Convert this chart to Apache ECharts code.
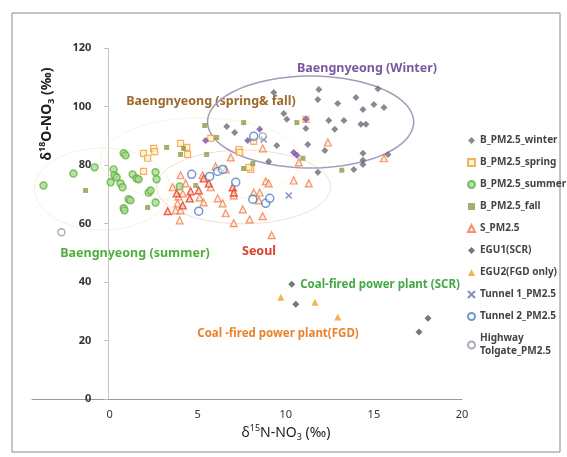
<!DOCTYPE html>
<html><head><meta charset="utf-8">
<script src="https://cdn.jsdelivr.net/npm/echarts@6/dist/echarts.min.js"></script>
<style>html,body{margin:0;padding:0;background:#fff}#c{width:567px;height:457px}</style>
</head><body><div id="c"></div>
<script>
// ---- data (x = δ15N-NO3, y = δ18O-NO3) ----
const xTickValues = [0, 5, 10, 15, 20];
const yTickMin = 0, yTickMax = 120, yTickStep = 20;

const winterGray = [
  [11.88,105.8],[15.23,106.1],[11.82,102.4],[13.98,103.1],[12.95,101.0],[15.0,100.7],[15.57,99.7],
  [14.38,99.0],[9.89,97.6],[10.06,95.6],[12.44,95.2],[13.30,95.2],[14.26,93.9],[14.55,93.9],
  [11.14,92.5],[12.78,92.2],[6.65,93.2],[7.10,91.1],[9.49,86.7],[11.25,87.0],[12.22,85.0],
  [14.38,84.0],[15.80,83.6],[14.38,81.6],[14.38,80.2],[9.03,81.2],[11.82,77.5],[13.86,78.5],[9.32,104.8]
];
const winterPurple = [[11.14,95.6],[8.52,92.2],[10.45,84.3],[10.63,83.3],[7.84,88.4],[5.45,88.4]];
const springPts = [
  [1.93,84.0],[2.16,82.3],[2.50,85.7],[2.56,84.6],[4.03,87.4],[4.38,86.0],[4.43,83.6],[5.74,89.1],
  [7.33,85.3],[7.39,84.3],[8.01,78.5],[1.93,77.8],[11.14,95.6],[8.18,88.1],[7.90,79.2]
];
const summerPts = [
  [-3.75,73.0],[-2.05,77.1],[-0.85,79.2],[0.23,78.5],[0.28,76.5],[0.40,75.8],[0.80,84.0],[0.91,83.3],
  [0.06,74.1],[0.63,73.7],[0.74,72.4],[1.31,76.8],[1.53,75.4],[1.65,75.1],[1.08,68.3],[1.19,67.9],
  [0.80,65.2],[0.85,64.5],[2.22,70.6],[2.33,71.3],[2.61,77.5],[2.67,75.1],[2.61,67.2],[3.98,72.7]
];
const fallPts = [
  [-1.36,71.3],[3.24,86.0],[4.20,85.7],[5.40,93.5],[6.08,89.4],[5.51,83.6],[7.61,94.5],[10.63,94.5],
  [7.61,78.8],[8.13,80.5],[10.97,82.3],[13.18,78.2],[4.89,73.0],[2.16,65.5],[4.03,83.6]
];
const seoulOrange = [
  [6.88,82.6],[8.69,85.7],[6.02,79.5],[6.59,78.5],[8.86,74.4],[9.03,73.7],[10.45,74.7],[11.31,73.7],
  [12.39,87.7],[15.57,82.3],[4.03,76.5],[5.28,76.5],[3.58,72.4],[3.92,69.3],[4.15,70.3],[4.32,73.7],
  [5.11,68.9],[5.74,72.4],[5.34,67.2],[3.86,66.9],[3.75,64.5],[4.03,64.5],[3.98,61.1],[6.14,68.6],
  [6.42,66.9],[7.05,69.6],[6.59,63.5],[7.05,60.1],[7.56,64.8],[7.95,61.4],[8.69,62.5],[8.18,70.6],
  [8.52,70.6],[8.47,67.9],[9.20,56.0],[10.74,80.9]
];
const seoulRed = [
  [3.81,70.3],[4.60,71.0],[5.06,71.3],[5.63,73.7],[4.15,66.2],[5.34,75.4],[6.99,72.4],[4.55,68.6],
  [3.30,64.2],[7.05,70.6]
];
const egu1Pts = [[10.34,39.2],[10.57,32.4],[18.07,27.6],[17.56,22.9]];
const egu2Pts = [[9.72,34.8],[11.65,33.1],[12.95,28.0]];
const tunnel1Pts = [[10.17,69.6],[8.75,88.7]];
const tunnel2Pts = [
  [4.66,76.8],[5.68,76.1],[6.14,77.8],[6.42,78.5],[7.16,74.1],[8.13,68.3],[8.86,66.9],[9.09,68.6],
  [5.06,64.2],[8.18,89.8]
];
const highwayPts = [[-2.73,57.0],[8.69,89.8]];

// ellipses: [centerX, centerY, radiusX, radiusY] in data units
const ellipseWinter = [[11.41, 94.7, 5.85, 15.7]];
const ellipseSeoul = [[7.6, 72.5, 4.94, 12.6]];
const ellipseSummer = [[-0.4, 71.8, 3.86, 14.0]];
const ellipseSpringFall = [[5.16, 81.7, 5.68, 14.4]];

const legendNames = ['B_PM2.5_winter','B_PM2.5_spring','B_PM2.5_summer','B_PM2.5_fall','S_PM2.5',
  'EGU1(SCR)','EGU2(FGD only)','Tunnel 1_PM2.5','Tunnel 2_PM2.5','Highway\nTolgate_PM2.5'];

// ---- chart ----
const chart = echarts.init(document.getElementById('c'), null, {renderer:'canvas'});
const FONT = '"Noto Sans", "Open Sans", sans-serif';
const X_MIN = -4.4, X_MAX = 20;

function ellipseSeries(data, color, width) {
  return {
    type: 'custom', data: data, z: 1, silent: true,
    itemStyle: {color: color},
    renderItem: function (params, api) {
      const c = api.coord([api.value(0), api.value(1)]);
      const s = api.size([api.value(2), api.value(3)]);
      const pts = [];
      for (let i = 0; i < 90; i++) {
        const t = i / 90 * Math.PI * 2;
        pts.push([c[0] + s[0] * Math.cos(t), c[1] + s[1] * Math.sin(t)]);
      }
      return {type: 'polygon', shape: {points: pts},
        style: {fill: 'none', stroke: api.visual('color'), lineWidth: width}};
    }
  };
}

function sc(name, data, symbol, size, color, border, bw, z) {
  return {name: name, type: 'scatter', data: data, symbol: symbol, symbolSize: size, z: z || 3,
    itemStyle: {color: color, borderColor: border, borderWidth: bw}};
}

const option = {
  animation: false,
  backgroundColor: '#fff',
  grid: {left: 32, right: 105, top: 48, bottom: 58},
  xAxis: {
    type: 'value', min: X_MIN, max: X_MAX,
    axisLine: {onZero: false, lineStyle: {color: '#999', width: 1}},
    axisTick: {show: false},
    splitLine: {show: false},
    axisLabel: {customValues: xTickValues, color: '#333', fontSize: 11, fontFamily: FONT, margin: 10}
  },
  yAxis: {
    type: 'value', min: yTickMin, max: yTickMax, interval: yTickStep,
    axisLine: {show: true, onZero: false, lineStyle: {color: '#c4c4c4'}},
    axisTick: {show: true, length: 4, lineStyle: {color: '#bbb'}},
    splitLine: {show: false},
    axisLabel: {color: '#333', fontSize: 11, fontFamily: FONT, fontWeight: 'bold', margin: 17}
  },
  legend: {
    orient: 'vertical', left: 462, top: 129, itemWidth: 7, itemHeight: 7, itemGap: 9,
    data: legendNames,
    textStyle: {fontSize: 10, fontFamily: FONT, color: '#444', fontWeight: 'bold', lineHeight: 13},
    selectedMode: false
  },
  graphic: [
    {type: 'rect', shape: {x: 12, y: 13, width: 548, height: 439},
      style: {fill: 'none', stroke: '#8a8a8a', lineWidth: 1}, z: 0},
    {type: 'text', x: 47, y: 114, rotation: Math.PI / 2,
      style: {text: '{a|δ}{s|18}{a|O-NO}{b|3}{a| (‰)}', align: 'center', verticalAlign: 'middle',
        rich: {a: {fontSize: 14, fontWeight: 'bold', fontFamily: FONT, fill: '#222', lineHeight: 18},
          s: {fontSize: 9, fontWeight: 'bold', fontFamily: FONT, fill: '#222', verticalAlign: 'top', lineHeight: 18},
          b: {fontSize: 9, fontWeight: 'bold', fontFamily: FONT, fill: '#222', verticalAlign: 'bottom', lineHeight: 18}}}},
    {type: 'text', x: 286, y: 433,
      style: {text: '{a|δ}{s|15}{a|N-NO}{b|3}{a| (‰)}', align: 'center', verticalAlign: 'middle',
        rich: {a: {fontSize: 14, fontFamily: FONT, fill: '#222', lineHeight: 18},
          s: {fontSize: 9, fontFamily: FONT, fill: '#222', verticalAlign: 'top', lineHeight: 18},
          b: {fontSize: 9, fontFamily: FONT, fill: '#222', verticalAlign: 'bottom', lineHeight: 18}}}},
    {type: 'text', x: 367, y: 68, style: {text: 'Baengnyeong (Winter)', align: 'center', verticalAlign: 'middle',
      fontSize: 12.5, fontWeight: 'bold', fontFamily: FONT, fill: '#7a5a9e'}},
    {type: 'text', x: 211, y: 101, style: {text: 'Baengnyeong (spring& fall)', align: 'center', verticalAlign: 'middle',
      fontSize: 12.5, fontWeight: 'bold', fontFamily: FONT, fill: '#9c6a2c'}},
    {type: 'text', x: 135, y: 253, style: {text: 'Baengnyeong (summer)', align: 'center', verticalAlign: 'middle',
      fontSize: 12.5, fontWeight: 'bold', fontFamily: FONT, fill: '#4fae3e'}},
    {type: 'text', x: 259, y: 251, style: {text: 'Seoul', align: 'center', verticalAlign: 'middle',
      fontSize: 12.5, fontWeight: 'bold', fontFamily: FONT, fill: '#e0402c'}},
    {type: 'text', x: 380, y: 285, style: {text: 'Coal-fired power plant (SCR)', align: 'center', verticalAlign: 'middle',
      fontSize: 11.5, fontWeight: 'bold', fontFamily: FONT, fill: '#45a845'}},
    {type: 'text', x: 278, y: 334, style: {text: 'Coal -fired power plant(FGD)', align: 'center', verticalAlign: 'middle',
      fontSize: 11.5, fontWeight: 'bold', fontFamily: FONT, fill: '#e8822c'}}
  ],
  series: [
    ellipseSeries(ellipseSummer, 'rgba(225,235,185,0.5)', 1),
    ellipseSeries(ellipseSpringFall, 'rgba(242,232,180,0.45)', 1),
    ellipseSeries(ellipseSeoul, 'rgba(242,190,170,0.55)', 1),
    ellipseSeries(ellipseWinter, '#a49cb6', 1.5),
    sc('B_PM2.5_winter', winterGray, 'diamond', 7, '#6d6a7a', '#6d6a7a', 0, 4),
    sc('B_PM2.5_winter', winterPurple, 'diamond', 7, '#7b4ea8', '#7b4ea8', 0, 4),
    sc('B_PM2.5_spring', springPts, 'rect', 6, '#fff0d0', '#f0a03c', 1.2),
    sc('B_PM2.5_summer', summerPts, 'circle', 7, '#a9d88f', '#5db040', 1.4),
    sc('B_PM2.5_fall', fallPts, 'rect', 5, '#8e9a46', '#8e9a46', 0),
    sc('S_PM2.5', seoulOrange, 'triangle', 7, '#fde9dc', '#f07a44', 1.2),
    sc('S_PM2.5', seoulRed, 'triangle', 7, '#f8c8b8', '#e4361f', 1.3),
    sc('EGU1(SCR)', egu1Pts, 'diamond', 7, '#4e5a54', '#4e5a54', 0),
    sc('EGU2(FGD only)', egu2Pts, 'triangle', 7, '#f0a02c', '#f0a02c', 0),
    sc('Tunnel 1_PM2.5', tunnel1Pts, 'path://M0,0L10,10M10,0L0,10', 6, 'rgba(0,0,0,0)', '#6374a8', 1.4),
    sc('Tunnel 2_PM2.5', tunnel2Pts, 'circle', 8, 'rgba(255,255,255,0.6)', '#4a80c4', 1.5),
    sc('Highway\nTolgate_PM2.5', highwayPts, 'circle', 7, 'rgba(255,255,255,0.6)', '#8d9aa8', 1.4)
  ]
};
chart.setOption(option);
// place the y axis where x = 0, using the chart's own x scale
const px0 = chart.convertToPixel({xAxisIndex: 0}, 0);
const pxMin = chart.convertToPixel({xAxisIndex: 0}, X_MIN);
chart.setOption({yAxis: {offset: -(px0 - pxMin)}});
</script>
</body></html>
